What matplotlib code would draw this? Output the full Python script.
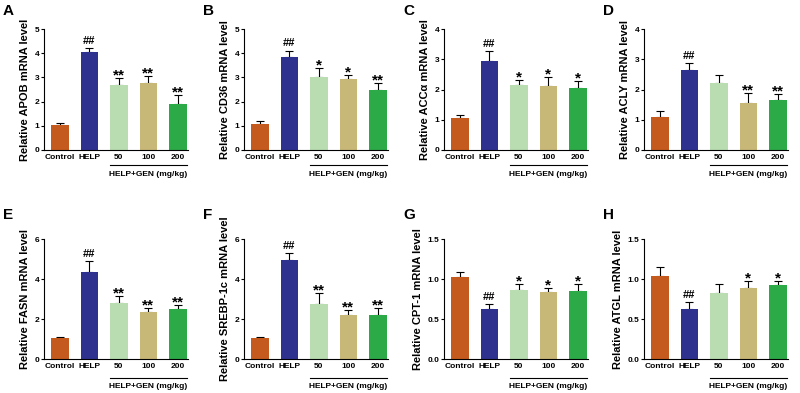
import numpy as np
import matplotlib
matplotlib.use("Agg")
import matplotlib.pyplot as plt

plt.rcParams['font.family'] = ['Liberation Sans', 'DejaVu Sans']
plt.rcParams['font.weight'] = 'bold'

groups = ["Control", "HELP", "50", "100", "200"]
colors = ["#C55A1E", "#2F318F", "#B9DDB0", "#C8B878", "#2DAA48"]

# values (mean, upper error)
apob = [1.03, 4.03, 2.70, 2.77, 1.90]
apob_err = [0.09, 0.19, 0.28, 0.27, 0.36]
apob_sig = ["", "##", "**", "**", "**"]

cd36 = [1.06, 3.86, 3.02, 2.92, 2.50]
cd36_err = [0.12, 0.25, 0.37, 0.18, 0.27]
cd36_sig = ["", "##", "*", "*", "**"]

acca = [1.07, 2.94, 2.14, 2.12, 2.04]
acca_err = [0.10, 0.32, 0.18, 0.30, 0.25]
acca_sig = ["", "##", "*", "*", "*"]

acly = [1.10, 2.64, 2.20, 1.56, 1.65]
acly_err = [0.18, 0.24, 0.28, 0.31, 0.19]
acly_sig = ["", "##", "", "**", "**"]

fasn = [1.03, 4.34, 2.80, 2.34, 2.49]
fasn_err = [0.06, 0.54, 0.35, 0.23, 0.20]
fasn_sig = ["", "##", "**", "**", "**"]

srebp = [1.03, 4.93, 2.74, 2.19, 2.19]
srebp_err = [0.05, 0.36, 0.54, 0.26, 0.38]
srebp_sig = ["", "##", "**", "**", "**"]

cpt1 = [1.02, 0.62, 0.86, 0.84, 0.85]
cpt1_err = [0.07, 0.07, 0.08, 0.05, 0.09]
cpt1_sig = ["", "##", "*", "*", "*"]

atgl = [1.04, 0.63, 0.82, 0.89, 0.93]
atgl_err = [0.11, 0.08, 0.12, 0.08, 0.04]
atgl_sig = ["", "##", "", "*", "*"]

panels = [
    ("A", "Relative APOB mRNA level", apob, apob_err, apob_sig, 5, [0, 1, 2, 3, 4, 5], None),
    ("B", "Relative CD36 mRNA level", cd36, cd36_err, cd36_sig, 5, [0, 1, 2, 3, 4, 5], None),
    ("C", "Relative ACC\u03b1 mRNA level", acca, acca_err, acca_sig, 4, [0, 1, 2, 3, 4], None),
    ("D", "Relative ACLY mRNA level", acly, acly_err, acly_sig, 4, [0, 1, 2, 3, 4], None),
    ("E", "Relative FASN mRNA level", fasn, fasn_err, fasn_sig, 6, [0, 2, 4, 6], None),
    ("F", "Relative SREBP-1c mRNA level", srebp, srebp_err, srebp_sig, 6, [0, 2, 4, 6], None),
    ("G", "Relative CPT-1 mRNA level", cpt1, cpt1_err, cpt1_sig, 1.5, [0, 0.5, 1.0, 1.5], "{:.1f}"),
    ("H", "Relative ATGL mRNA level", atgl, atgl_err, atgl_sig, 1.5, [0, 0.5, 1.0, 1.5], "{:.1f}"),
]

W, H = 800, 393
fig = plt.figure(figsize=(W / 100, H / 100), dpi=100)

x = np.arange(len(groups))

for i, (letter, ylabel, vals, errs, sig, ymax, yticks, fmt) in enumerate(panels):
    row = i // 4
    col = i % 4
    left_px = 44 + 200 * col
    if row == 0:
        top_px, zero_px = 29, 150
    else:
        top_px, zero_px = 239, 359
    ax = fig.add_axes([left_px / W, (H - zero_px) / H, 144 / W, (zero_px - top_px) / H])

    ax.bar(x, vals, width=0.6, color=colors, edgecolor="none", zorder=2)
    ax.errorbar(x, vals, yerr=[np.zeros(len(vals)), errs], fmt="none",
                ecolor="black", elinewidth=0.8, capsize=3, capthick=0.8, zorder=1)
    for xi, v, e, s in zip(x, vals, errs, sig):
        if s.startswith("#"):
            ax.annotate(s, (xi, v + e), xytext=(0, 3), textcoords="offset points",
                        ha="center", va="baseline", fontsize=8, fontweight="bold")
        elif s:
            ax.annotate(s, (xi, v + e), xytext=(0, -1), textcoords="offset points",
                        ha="center", va="baseline", fontsize=11, fontweight="bold")

    ax.set_xlim(-0.54, 4.34)
    ax.set_ylim(0, ymax)
    ax.set_yticks(yticks)
    if fmt:
        ax.set_yticklabels([fmt.format(t) for t in yticks])
    ax.set_xticks(x)
    ax.set_xticklabels(groups)
    ax.tick_params(axis="x", length=0, pad=3, labelsize=6)
    ax.tick_params(axis="y", length=2.5, width=0.8, pad=1, labelsize=6)
    for lab in ax.get_xticklabels() + ax.get_yticklabels():
        lab.set_fontweight("bold")
    ax.spines["top"].set_visible(False)
    ax.spines["right"].set_visible(False)
    ax.spines["left"].set_linewidth(0.8)
    ax.spines["bottom"].set_linewidth(0.8)
    ax.set_ylabel(ylabel, fontsize=8, fontweight="bold", labelpad=3)

    h_px = zero_px - top_px
    line_y = -(15 if row == 0 else 19) / h_px
    text_y = -(25 if row == 0 else 28) / h_px
    ax.plot([1.7, 4.3], [line_y, line_y], color="black", lw=0.8,
            transform=ax.get_xaxis_transform(), clip_on=False)
    ax.text(3.0, text_y, "HELP+GEN (mg/kg)", transform=ax.get_xaxis_transform(),
            ha="center", va="center", fontsize=6, fontweight="bold")

    lx = (3 + 200 * col) / W
    ly = 1 - ((11 if row == 0 else 215) / H)
    fig.text(lx, ly, letter, fontsize=11, fontweight="bold", ha="left", va="center")

fig.savefig("out.png", dpi=100)
